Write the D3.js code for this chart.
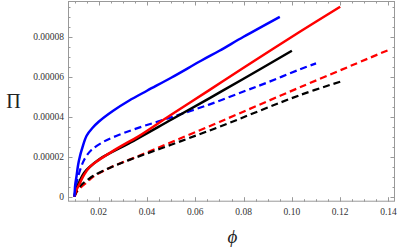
<!DOCTYPE html>
<html>
<head>
<meta charset="utf-8">
<script src="https://cdn.jsdelivr.net/npm/d3@7"></script>
<style>
	body { margin: 0; background: #fff; }
	text { font-family: "Times New Roman", "Liberation Serif", "DejaVu Serif", serif; }
	.tick-label { font-size: 9.5px; fill: #333; }
	.axis-title { fill: #222; }
</style>
</head>
<body>
<div id="chart"></div>
<script>

// curves: phi values and Pi values (in units of 1e-5)
const blueSolidPhi = [0.01, 0.0103, 0.0108, 0.0115, 0.0122, 0.013, 0.015, 0.0175, 0.02, 0.026, 0.0325, 0.04, 0.05, 0.0624, 0.07, 0.08, 0.095];
const blueSolidPi  = [0, 0.6, 1.0, 1.6, 2.0, 2.35, 3.05, 3.45, 3.75, 4.3, 4.8, 5.3, 5.95, 6.8, 7.3, 8.0, 9.0];

const blueDashPhi = [0.01, 0.0105, 0.0115, 0.0125, 0.0136, 0.015, 0.0171, 0.022, 0.0275, 0.0358, 0.05, 0.066, 0.08, 0.09, 0.1033, 0.11];
const blueDashPi  = [0, 0.5, 1.0, 1.4, 1.75, 2.05, 2.35, 2.75, 3.05, 3.42, 3.97, 4.62, 5.26, 5.72, 6.37, 6.67];

const redSolidPhi = [0.01, 0.0106, 0.0115, 0.0122, 0.014, 0.0164, 0.02, 0.025, 0.03, 0.0358, 0.05, 0.0658, 0.08, 0.1033, 0.12];
const redSolidPi  = [0, 0.3, 0.5, 0.67, 1.1, 1.5, 1.83, 2.22, 2.58, 2.97, 4.1, 5.33, 6.45, 8.25, 9.5];

const blackSolidPhi = [0.01, 0.0106, 0.0115, 0.0122, 0.014, 0.0164, 0.02, 0.025, 0.0325, 0.05, 0.0658, 0.08, 0.1];
const blackSolidPi  = [0, 0.35, 0.6, 0.8, 1.2, 1.5, 1.85, 2.2, 2.67, 3.85, 4.92, 5.9, 7.3];

const redDashPhi = [0.01, 0.011, 0.0129, 0.015, 0.0178, 0.0247, 0.0358, 0.05, 0.07, 0.1033, 0.1408];
const redDashPi  = [0, 0.25, 0.5, 0.7, 1.0, 1.45, 2.0, 2.72, 3.74, 5.47, 7.38];

const blackDashPhi = [0.01, 0.011, 0.0129, 0.015, 0.0178, 0.0247, 0.0325, 0.05, 0.07, 0.1033, 0.1207];
const blackDashPi  = [0, 0.3, 0.6, 0.8, 1.05, 1.45, 1.83, 2.6, 3.5, 5.08, 5.78];

const xTicks = [0.02, 0.04, 0.06, 0.08, 0.10, 0.12, 0.14];
const yTicks = [0, 0.00002, 0.00004, 0.00006, 0.00008];
const yTickLabels = ["0", "0.00002", "0.00004", "0.00006", "0.00008"];

const series = [
	{ phi: blueDashPhi, pi: blueDashPi, color: "#0000ff", dash: "7,4" },
	{ phi: redDashPhi, pi: redDashPi, color: "#ff0000", dash: "7,4" },
	{ phi: blackDashPhi, pi: blackDashPi, color: "#000000", dash: "7,4" },
	{ phi: blackSolidPhi, pi: blackSolidPi, color: "#000000", dash: null },
	{ phi: redSolidPhi, pi: redSolidPi, color: "#ff0000", dash: null },
	{ phi: blueSolidPhi, pi: blueSolidPi, color: "#0000ff", dash: null }
];

const width = 399, height = 250;
const frame = { left: 68, right: 395, top: 1, bottom: 201.7 };

const svg = d3.select("#chart").append("svg")
	.attr("width", width)
	.attr("height", height);

const x = d3.scaleLinear()
	.domain([0.0073, 0.1427])
	.range([frame.left, frame.right]);

const y = d3.scaleLinear()
	.domain([-0.0000025, 0.0000979])
	.range([frame.bottom, frame.top]);

// curves
const line = d3.line()
	.x(d => x(d[0]))
	.y(d => y(d[1] * 1e-5))
	.curve(d3.curveCatmullRom.alpha(0.5));

const plot = svg.append("g");
series.forEach(s => {
	plot.append("path")
		.datum(s.phi.map((p, i) => [p, s.pi[i]]))
		.attr("d", line)
		.attr("fill", "none")
		.attr("stroke", s.color)
		.attr("stroke-width", s.dash ? 2.2 : 2.5)
		.attr("stroke-dasharray", s.dash);
});

// frame
const frameColor = "#999";
svg.append("rect")
	.attr("x", frame.left + 0.5)
	.attr("y", frame.top + 0.5)
	.attr("width", frame.right - frame.left - 1)
	.attr("height", frame.bottom - frame.top - 1)
	.attr("fill", "none")
	.attr("stroke", frameColor)
	.attr("stroke-width", 1);

// ticks inward on all four sides
const xMinor = d3.range(0.01, 0.1426, 0.005).filter(v => !xTicks.some(t => Math.abs(t - v) < 1e-9));
const yMinor = d3.range(0, 0.0000979, 0.000005).filter(v => !yTicks.some(t => Math.abs(t - v) < 1e-12));

const ticks = svg.append("g").attr("stroke", frameColor).attr("stroke-width", 1);
function xTick(v, len) {
	let px = Math.round(x(v)) + 0.5;
	ticks.append("line").attr("x1", px).attr("x2", px).attr("y1", frame.bottom).attr("y2", frame.bottom - len);
	ticks.append("line").attr("x1", px).attr("x2", px).attr("y1", frame.top).attr("y2", frame.top + len);
}
function yTick(v, len) {
	let py = Math.round(y(v)) + 0.5;
	ticks.append("line").attr("x1", frame.left).attr("x2", frame.left + len).attr("y1", py).attr("y2", py);
	ticks.append("line").attr("x1", frame.right).attr("x2", frame.right - len).attr("y1", py).attr("y2", py);
}
xTicks.forEach(v => xTick(v, 4.5));
xMinor.forEach(v => xTick(v, 2.5));
yTicks.forEach(v => yTick(v, 4.5));
yMinor.forEach(v => yTick(v, 2.5));

// tick labels
svg.append("g").selectAll("text")
	.data(xTicks)
	.enter()
	.append("text")
	.attr("class", "tick-label")
	.attr("x", d => x(d))
	.attr("y", 215)
	.attr("text-anchor", "middle")
	.text(d => d.toFixed(2));

svg.append("g").selectAll("text")
	.data(yTicks)
	.enter()
	.append("text")
	.attr("class", "tick-label")
	.attr("x", frame.left - 4)
	.attr("y", d => y(d) + 3.3)
	.attr("text-anchor", "end")
	.text((d, i) => yTickLabels[i]);

// axis titles
svg.append("text")
	.attr("class", "axis-title")
	.attr("x", 13.5)
	.attr("y", 108)
	.attr("text-anchor", "middle")
	.style("font-size", "20px")
	.text("Π");

svg.append("text")
	.attr("class", "axis-title")
	.attr("x", 232.5)
	.attr("y", 243)
	.attr("text-anchor", "middle")
	.style("font-size", "19px")
	.style("font-style", "italic")
	.text("ϕ");

</script>
</body>
</html>
